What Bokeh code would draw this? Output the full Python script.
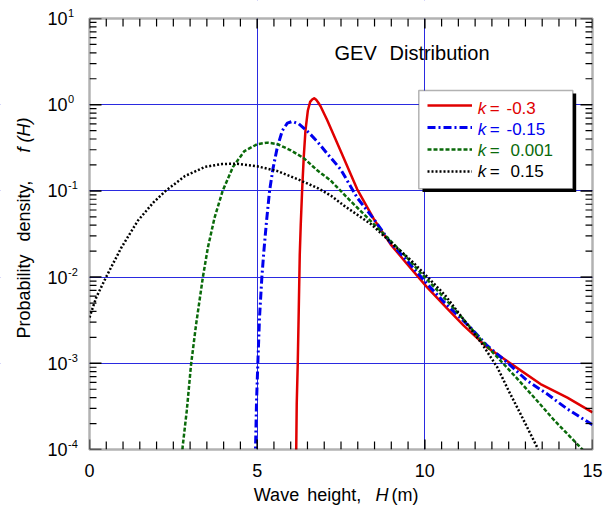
import math
from bokeh.plotting import figure
from bokeh.models import (FixedTicker, Grid, Label, BoxAnnotation, Legend, LegendItem, Range1d)
from bokeh.core.properties import value
from bokeh.embed import file_html
from bokeh.resources import INLINE

# ---------------- data ----------------
h_k030 = [6.15, 6.165, 6.18, 6.21, 6.24, 6.27, 6.30, 6.34, 6.39, 6.44, 6.51, 6.58, 6.64,
          6.70, 6.76, 6.82, 6.89, 7.09, 7.49, 7.98, 8.48, 8.98, 9.47, 10.07, 10.67, 11.16,
          11.86, 12.65, 13.45, 14.25, 15.0]
f_k030 = [5e-5, 1.0e-4, 3.4e-4, 9.8e-4, 4.1e-3, 0.018, 0.041, 0.1, 0.25, 0.5, 0.85, 1.08, 1.15,
          1.19, 1.14, 1.06, 0.96, 0.66, 0.29, 0.105, 0.047, 0.024, 0.0142, 0.0076, 0.0043, 0.00273,
          0.00153, 0.00094, 0.000575, 0.0004, 0.00027]

h_k015n = [4.93, 4.95, 4.98, 5.02, 5.07, 5.14, 5.20, 5.28, 5.37, 5.47, 5.60, 5.75, 5.90, 6.05,
           6.24, 6.54, 6.79, 7.09, 7.49, 7.98, 8.48, 8.98, 9.47, 10.07, 10.6, 11.36, 11.86,
           12.46, 13.05, 13.65, 14.25, 15.0]
f_k015n = [5e-5, 1.0e-4, 3.5e-4, 1.0e-3, 3.4e-3, 0.01, 0.02, 0.045, 0.1, 0.18, 0.32, 0.5, 0.61,
           0.64, 0.6, 0.474, 0.375, 0.27, 0.178, 0.0836, 0.047, 0.025, 0.0155, 0.0083, 0.005,
           0.0026, 0.0016, 0.00102, 0.00063, 0.00044, 0.000295, 0.000193]

h_k0001 = [2.70, 2.78, 2.90, 3.03, 3.18, 3.38, 3.53, 3.73, 3.97, 4.28, 4.62, 5.0, 5.3, 5.6, 6.0,
           6.39, 6.8, 7.19, 7.78, 8.38, 8.88, 9.37, 9.87, 10.47, 11.06, 11.66, 12.26, 12.76,
           13.3, 13.85, 14.3, 14.7, 15.0]
f_k0001 = [4.5e-5, 1.1e-4, 2.8e-4, 9.8e-4, 2.85e-3, 9.9e-3, 0.022, 0.049, 0.1, 0.19, 0.29, 0.348,
           0.363, 0.35, 0.296, 0.24, 0.172, 0.132, 0.0766, 0.045, 0.0288, 0.0185, 0.0113, 0.0064,
           0.00356, 0.0019, 0.00107, 0.00066, 0.000386, 0.00022, 0.000145, 0.0001, 7.3e-5]

h_k015 = [0.0, 0.2, 0.5, 0.95, 1.44, 1.9, 2.27, 2.85, 3.45, 3.95, 4.4, 5.0, 5.6, 6.2, 6.8, 7.2,
          7.6, 8.4, 9.0, 9.6, 10.0, 10.6, 11.26, 11.71, 12.16, 12.5, 12.85, 13.35, 13.6]
f_k015 = [0.0034, 0.0058, 0.0101, 0.022, 0.045, 0.073, 0.1, 0.149, 0.19, 0.205, 0.207, 0.193,
          0.17, 0.137, 0.108, 0.088, 0.067, 0.041, 0.025, 0.0155, 0.0108, 0.0062, 0.00285,
          0.00167, 0.0009, 0.00048, 0.00026, 0.000106, 5e-5]

k_values = ["-0.3", "-0.15", "0.001", "0.15"]
x_ticks = [0, 5, 10, 15]
x_minor = [0.5 * i for i in range(31) if i % 10 != 0]
y_exponents = [-4, -3, -2, -1, 0, 1]
y_minor = [m * 10.0 ** e for e in range(-4, 1) for m in range(2, 10)]
x_grid = [5, 10]
y_grid = [1e-3, 1e-2, 1e-1, 1.0]

# ---------------- layout (pixel geometry of the plot area) ----------------
W, H = 611, 509
PL, PT, PR, PB = 89, 18, 592, 449      # plot-area edges in canvas pixels
X0, X1 = 0.0, 15.0
E0, E1 = -4, 1
FONT = "Liberation Sans"


def dx(px):
    return X0 + (px - PL) / (PR - PL) * (X1 - X0)


def dy(py):
    return 10 ** (E1 - (py - PT) / (PB - PT) * (E1 - E0))


p = figure(width=W, height=H, y_axis_type="log",
           x_range=Range1d(dx(0), dx(W)), y_range=Range1d(dy(H), dy(0)),
           x_axis_location=None, y_axis_location=None,
           output_backend="svg", toolbar_location=None, min_border=0)
p.grid.visible = False
p.outline_line_color = None
p.background_fill_color = "white"
p.border_fill_color = "white"

GRID_COL = "#2a2ae0"
p.add_layout(Grid(dimension=0, ticker=FixedTicker(ticks=x_grid), grid_line_color=GRID_COL,
                  grid_line_width=1))
p.add_layout(Grid(dimension=1, ticker=FixedTicker(ticks=y_grid), grid_line_color=GRID_COL,
                  grid_line_width=1))

# ---------------- curves ----------------
r_red = p.line(h_k030, f_k030, line_color="#e00000", line_width=2.5, line_join="round")
r_blue = p.line(h_k015n, f_k015n, line_color="#0000ee", line_width=3, line_dash="8 3 2 3")
r_green = p.line(h_k0001, f_k0001, line_color="#0a6a0a", line_width=2.5, line_dash="4 2")
r_black = p.line(h_k015, f_k015, line_color="black", line_width=2.5, line_dash="2 2")
renderers = [r_red, r_blue, r_green, r_black]
colors = ["#e00000", "#0000ee", "#0a6a0a", "black"]

# ---------------- ticks (inside, on all four sides) ----------------
def vticks(xs, length, lw):
    n = len(xs)
    p.segment(x0=xs, y0=[dy(PB)] * n, x1=xs, y1=[dy(PB - length)] * n,
              line_color="black", line_width=lw)
    p.segment(x0=xs, y0=[dy(PT)] * n, x1=xs, y1=[dy(PT + length)] * n,
              line_color="black", line_width=lw)


def hticks(ys, length, lw):
    n = len(ys)
    p.segment(x0=[dx(PL)] * n, y0=ys, x1=[dx(PL + length)] * n, y1=ys,
              line_color="black", line_width=lw)
    p.segment(x0=[dx(PR)] * n, y0=ys, x1=[dx(PR - length)] * n, y1=ys,
              line_color="black", line_width=lw)


vticks(x_ticks, 10, 1.5)
vticks(x_minor, 8, 1.2)
hticks([10.0 ** e for e in y_exponents], 12, 1.5)
hticks(y_minor, 7, 1.2)

# ---------------- masks outside the plot area + frame ----------------
for kw in (dict(right=X0), dict(left=X1), dict(top=10.0 ** E0), dict(bottom=10.0 ** E1)):
    p.add_layout(BoxAnnotation(fill_color="white", fill_alpha=1, line_color=None, **kw))
p.add_layout(BoxAnnotation(left=X0, right=X1, bottom=10.0 ** E0, top=10.0 ** E1,
                           fill_alpha=0, line_color="black", line_width=2.5))

# ---------------- legend ----------------
p.add_layout(BoxAnnotation(left=dx(422), right=dx(575.7), top=dy(93), bottom=dy(191.5),
                           fill_color="black", fill_alpha=1, line_color=None))
p.add_layout(BoxAnnotation(left=dx(418.3), right=dx(572.3), top=dy(90), bottom=dy(188.3),
                           fill_color="white", fill_alpha=1, line_color="black", line_width=1.5))
leg = Legend(items=[LegendItem(label=value(" "), renderers=[r]) for r in renderers],
             location=(427, H - 182), glyph_width=45, glyph_height=22,
             label_height=22, spacing=0, padding=0, margin=0, label_standoff=0,
             label_width=1, label_text_font_size="8px",
             border_line_color=None, background_fill_alpha=0)
p.add_layout(leg)


def lab(px, py, text, size, color="black", italic=False, align="left", angle=0.0):
    p.add_layout(Label(x=dx(px), y=dy(py), text=text, text_font=FONT,
                       text_font_size=size, text_color=color,
                       text_font_style="italic" if italic else "normal",
                       text_align=align, text_baseline="middle", angle=angle))


row_y = [107.5, 128.6, 149.7, 170.8]
val_x = [506, 506, 510, 510]
for yy, kv, vx, c in zip(row_y, k_values, val_x, colors):
    lab(477.3, yy, "k", "17px", c, italic=True)
    lab(489.3, yy, "=", "17px", c)
    lab(vx, yy, kv, "17px", c)

# y tick labels (10 with superscript exponent)
for e in y_exponents:
    py = PT + (E1 - e) / (E1 - E0) * (PB - PT)
    lab(67, py, "10", "18px", align="right")
    lab(67.5, py - 5.5, str(e), "11px", align="left")

# x tick labels
for t in x_ticks:
    p.add_layout(Label(x=t, y=dy(469.5), text=str(t), text_font=FONT, text_font_size="18px",
                       text_align="center", text_baseline="middle", text_color="black"))

# titles
lab(334, 52.5, "GEV", "20px")
lab(389, 52.5, "Distribution", "20px")
lab(253.3, 494, "Wave", "18px")
lab(306.7, 494, "height,", "18px")
lab(375, 494, "H", "18px", italic=True)
lab(391, 494, "(m)", "18px")
lab(23.5, 338, "Probability", "18px", angle=math.pi / 2)
lab(23.5, 241, "density,", "18px", angle=math.pi / 2)
lab(23.5, 152, "f (H)", "18px", italic=True, angle=math.pi / 2)

open("out.html", "w").write(file_html(p, INLINE))
